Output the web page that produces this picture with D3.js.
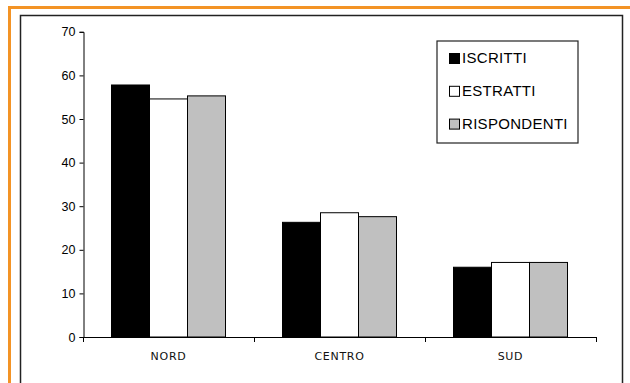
<!DOCTYPE html>
<html>
<head>
<meta charset="utf-8">
<script src="https://cdn.jsdelivr.net/npm/d3@7"></script>
<style>
  html, body { margin: 0; padding: 0; background: #fff; }
  svg { display: block; }
</style>
</head>
<body>
<svg id="chart" width="630" height="383"></svg>
<script>
// Regional breakdown, values in percent
const categories = ["NORD", "CENTRO", "SUD"];
const seriesNames = ["ISCRITTI", "ESTRATTI", "RISPONDENTI"];
const iscritti = [57.8, 26.3, 16.0];
const estratti = [54.6, 28.5, 17.1];
const rispondenti = [55.3, 27.6, 17.1];
const yTicks = [0, 10, 20, 30, 40, 50, 60, 70];

const seriesValues = [iscritti, estratti, rispondenti];
const fills = ["#000000", "#ffffff", "#c0c0c0"];

const svg = d3.select("#chart");

// Outer orange frame and inner chart-area frame
svg.append("rect")
  .attr("x", 9.5).attr("y", 7.5)
  .attr("width", 700).attr("height", 500)
  .attr("fill", "none").attr("stroke", "#f39325").attr("stroke-width", 3);
svg.append("rect")
  .attr("x", 20.5).attr("y", 15.5)
  .attr("width", 602).attr("height", 500)
  .attr("fill", "#fff").attr("stroke", "#222").attr("stroke-width", 1.5);

const plot = { left: 83, right: 596, top: 31.8, bottom: 337 };

const x0 = d3.scaleBand()
  .domain(categories)
  .range([plot.left, plot.right])
  .paddingInner(1 / 3)
  .paddingOuter(1 / 6);

const x1 = d3.scaleBand()
  .domain(seriesNames)
  .range([0, x0.bandwidth()]);

const y = d3.scaleLinear()
  .domain([0, 70])
  .range([plot.bottom, plot.top]);

// Bars
const groups = svg.append("g").selectAll("g")
  .data(categories)
  .join("g")
  .attr("transform", d => `translate(${x0(d)},0)`);

groups.selectAll("rect")
  .data((c, i) => seriesNames.map((s, j) => ({ s, j, v: seriesValues[j][i] })))
  .join("rect")
  .attr("x", d => x1(d.s))
  .attr("y", d => y(d.v))
  .attr("width", x1.bandwidth())
  .attr("height", d => y(0) - y(d.v))
  .attr("fill", d => fills[d.j])
  .attr("stroke", "#000")
  .attr("stroke-width", 1);

// Y axis
const yAxis = d3.axisLeft(y)
  .tickValues(yTicks)
  .tickSize(4)
  .tickPadding(4)
  .tickFormat(d3.format("d"));
const gy = svg.append("g")
  .attr("transform", `translate(${plot.left + 0.5},0)`)
  .call(yAxis);
gy.select(".domain").attr("stroke", "#000");
gy.selectAll(".tick line").attr("stroke", "#000");
gy.selectAll(".tick text")
  .attr("font-family", "Liberation Sans, Arial, sans-serif")
  .attr("font-size", 12.5)
  .attr("fill", "#000");

// X axis: baseline with ticks on the category boundaries
const step = x0.step();
const boundaries = d3.range(categories.length + 1).map(i => plot.left + i * step);
const gx = svg.append("g");
gx.append("line")
  .attr("x1", plot.left).attr("x2", plot.right)
  .attr("y1", plot.bottom + 0.5).attr("y2", plot.bottom + 0.5)
  .attr("stroke", "#000");
gx.selectAll("line.tk")
  .data(boundaries)
  .join("line")
  .attr("class", "tk")
  .attr("x1", d => Math.round(d) + 0.5).attr("x2", d => Math.round(d) + 0.5)
  .attr("y1", plot.bottom).attr("y2", plot.bottom + 5)
  .attr("stroke", "#000");
gx.selectAll("text")
  .data(categories)
  .join("text")
  .attr("x", d => x0(d) + x0.bandwidth() / 2)
  .attr("y", 360)
  .attr("text-anchor", "middle")
  .attr("font-family", "DejaVu Sans, Verdana, sans-serif")
  .attr("font-size", 11)
  .attr("letter-spacing", 0.7)
  .attr("fill", "#111")
  .text(d => d);

// Legend
const legend = svg.append("g");
legend.append("rect")
  .attr("x", 437).attr("y", 41)
  .attr("width", 141).attr("height", 102)
  .attr("fill", "#fff").attr("stroke", "#222").attr("stroke-width", 1.2);
const items = legend.selectAll("g.item")
  .data(seriesNames)
  .join("g")
  .attr("class", "item")
  .attr("transform", (d, i) => `translate(0,${i * 32.8})`);
items.append("rect")
  .attr("x", 449.5).attr("y", 53.5)
  .attr("width", 10).attr("height", 10)
  .attr("fill", (d, i) => fills[i])
  .attr("stroke", "#000");
items.append("text")
  .attr("x", 462)
  .attr("y", 63)
  .attr("font-family", "Liberation Sans, Arial, sans-serif")
  .attr("font-size", 15)
  .attr("letter-spacing", 0.3)
  .attr("fill", "#000")
  .text(d => d);
</script>
</body>
</html>
